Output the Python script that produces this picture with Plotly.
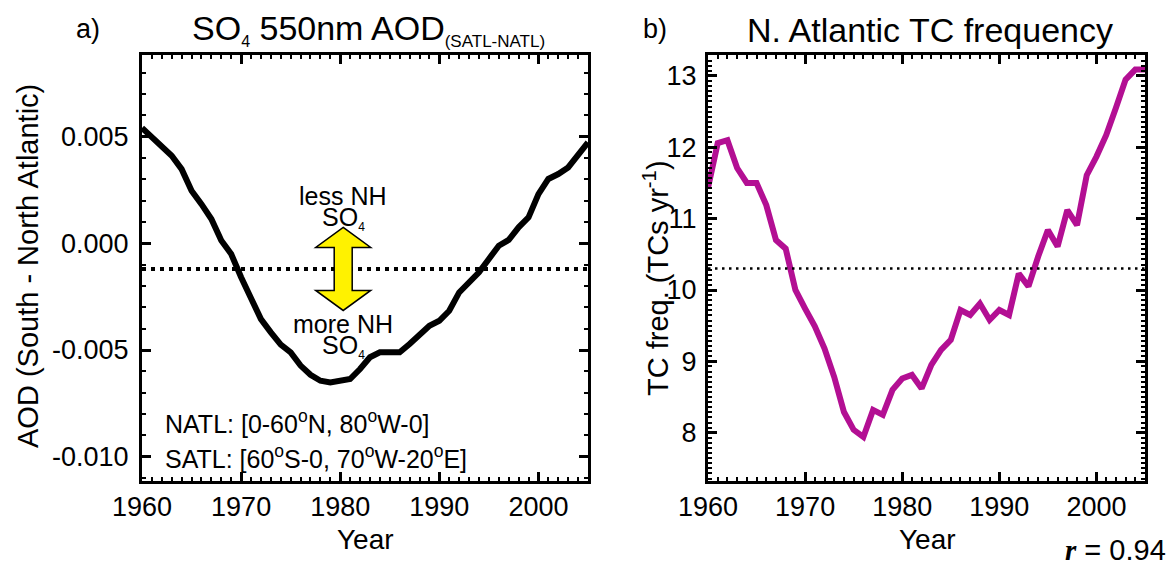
import plotly.graph_objects as go

W, H = 1173, 566

years = list(range(1960, 2006))
aod_diff = [0.00541, 0.00497, 0.00458, 0.00411, 0.00348, 0.00247, 0.00184, 0.00114,
            0.00013, -0.00050, -0.00159, -0.00261, -0.00355, -0.00417, -0.00475,
            -0.00511, -0.00573, -0.00616, -0.00644, -0.00652, -0.00644, -0.00636,
            -0.00589, -0.00534, -0.00511, -0.00514, -0.00511, -0.00472, -0.00425,
            -0.00386, -0.00363, -0.00316, -0.00230, -0.00183, -0.00136, -0.00073,
            -0.00011, 0.00016, 0.00075, 0.00122, 0.00231, 0.00302, 0.00325,
            0.00356, 0.00419, 0.00473]
tc_freq = [11.43, 12.06, 12.10, 11.71, 11.50, 11.50, 11.19, 10.70, 10.58, 10.00,
           9.74, 9.49, 9.18, 8.78, 8.29, 8.04, 7.94, 8.32, 8.25, 8.60, 8.76, 8.81,
           8.62, 8.95, 9.16, 9.30, 9.72, 9.65, 9.81, 9.58, 9.72, 9.65, 10.23,
           10.05, 10.47, 10.84, 10.61, 11.12, 10.91, 11.61, 11.87, 12.17, 12.55,
           12.95, 13.09, 13.09]
aod_ref = -0.0012
tc_ref = 10.30
r_value = 0.94

x_ticks = [1960, 1970, 1980, 1990, 2000]
aod_ticks = [-0.010, -0.005, 0.000, 0.005]
aod_ticklabels = ["-0.010", "-0.005", "0.000", "0.005"]
tc_ticks = [8, 9, 10, 11, 12, 13]
tc_ticklabels = ["8", "9", "10", "11", "12", "13"]

FONT = "Liberation Sans, Arial, sans-serif"

def px(x):
    return x / W

def py(y):
    return 1 - y / H

fig = go.Figure()
fig.add_trace(go.Scatter(x=years, y=aod_diff, mode="lines",
                         line=dict(color="black", width=6), xaxis="x", yaxis="y",
                         showlegend=False, hoverinfo="skip"))
fig.add_trace(go.Scatter(x=[years[0], years[-1]], y=[aod_ref, aod_ref], mode="lines",
                         line=dict(color="black", width=4, dash="4px,5px"),
                         xaxis="x", yaxis="y", showlegend=False, hoverinfo="skip"))
fig.add_trace(go.Scatter(x=years, y=tc_freq, mode="lines",
                         line=dict(color="#b30f93", width=6), xaxis="x2", yaxis="y2",
                         showlegend=False, hoverinfo="skip"))
fig.add_trace(go.Scatter(x=[years[0], years[-1]], y=[tc_ref, tc_ref], mode="lines",
                         line=dict(color="black", width=2.5, dash="2.5px,4.5px"),
                         xaxis="x2", yaxis="y2", showlegend=False, hoverinfo="skip"))

common_x = dict(range=[1960, 2005], tickvals=x_ticks, ticks="inside", ticklen=9,
                tickwidth=2.5, tickcolor="black", showline=True, linewidth=3,
                linecolor="black", mirror="allticks", showgrid=False, zeroline=False,
                automargin=False,
                tickfont=dict(family=FONT, size=27, color="black"),
                ticklabelstandoff=0,
                minor=dict(ticks="inside", ticklen=4, tickwidth=2, tickcolor="black",
                           dtick=1, showgrid=False))
y_common = dict(ticks="inside", ticklen=9, tickwidth=2.5, tickcolor="black",
                showline=True, linewidth=3, linecolor="black", mirror="allticks",
                showgrid=False, zeroline=False, automargin=False,
                tickfont=dict(family=FONT, size=27, color="black"))

fig.update_layout(
    width=W, height=H,
    margin=dict(l=0, r=0, t=0, b=0),
    paper_bgcolor="white", plot_bgcolor="white",
    xaxis=dict(domain=[px(142), px(588)], anchor="y", **common_x),
    xaxis2=dict(domain=[px(708), px(1145)], anchor="y2", **common_x),
    yaxis=dict(domain=[py(481), py(55)], anchor="x", range=[-0.01114, 0.00883],
               tickvals=aod_ticks, ticktext=aod_ticklabels, ticklabelstandoff=5,
               minor=dict(ticks="inside", ticklen=4, tickwidth=2, tickcolor="black",
                          dtick=0.001, showgrid=False),
               **y_common),
    yaxis2=dict(domain=[py(481), py(55)], anchor="x2", range=[7.323, 13.294],
                tickvals=tc_ticks, ticktext=tc_ticklabels, ticklabelstandoff=3,
                minor=dict(ticks="inside", ticklen=4, tickwidth=2, tickcolor="black",
                           dtick=1/14, showgrid=False),
                **y_common),
)

# double arrow (pixel-sized shape anchored at the reference line)
arrow_path = ("M 0,41.5 L 27.5,21.5 L 9,21.5 L 9,-21.5 L 27.5,-21.5 L 0,-41.5 "
              "L -27.5,-21.5 L -9,-21.5 L -9,21.5 L -27.5,21.5 Z")
fig.add_shape(type="path", xref="x", yref="y", xsizemode="pixel", ysizemode="pixel",
              xanchor=1980.3, yanchor=aod_ref, path=arrow_path,
              fillcolor="#fff200", line=dict(color="black", width=1.5), layer="above")

def ann(text, x, y, size=24, xanchor="center", yanchor="middle", angle=0, family=FONT):
    fig.add_annotation(text=text, x=px(x), y=py(y), xref="paper", yref="paper",
                       showarrow=False, xanchor=xanchor, yanchor=yanchor,
                       textangle=angle, font=dict(family=family, size=size, color="black"))

ann("a)", 88, 29, size=27)
ann("b)", 655, 29, size=27)
ann("SO<sub><span style='font-size:16px'>4</span></sub> 550nm AOD"
    "<sub><span style='font-size:17px'>(SATL-NATL)</span></sub>",
    190, 30, size=34, xanchor="left")
ann("N. Atlantic TC frequency", 930, 30, size=34)

ann("AOD (South - North Atlantic)", 28, 266, size=29, angle=-90)
ann("TC freq. (TCs yr<sup>-1</sup>)", 656, 278, size=29, angle=-90)
ann("Year", 365, 539, size=28)
ann("Year", 927, 539, size=28)

ann("less NH", 343, 196, size=25)
ann("SO<sub><span style='font-size:12px'>4</span></sub>", 343, 218, size=25)
ann("more NH", 343, 324, size=25)
ann("SO<sub><span style='font-size:12px'>4</span></sub>", 343, 346, size=25)

ann("NATL: [0-60<sup>o</sup>N, 80<sup>o</sup>W-0]", 163, 422, size=25, xanchor="left")
ann("SATL: [60<sup>o</sup>S-0, 70<sup>o</sup>W-20<sup>o</sup>E]", 163, 457, size=25, xanchor="left")

ann("<span style=\"font-family:'Liberation Serif'\"><b><i>r</i></b></span> = %.2f" % r_value,
    1168, 550, size=29, xanchor="right")

fig.write_html("out.html")
